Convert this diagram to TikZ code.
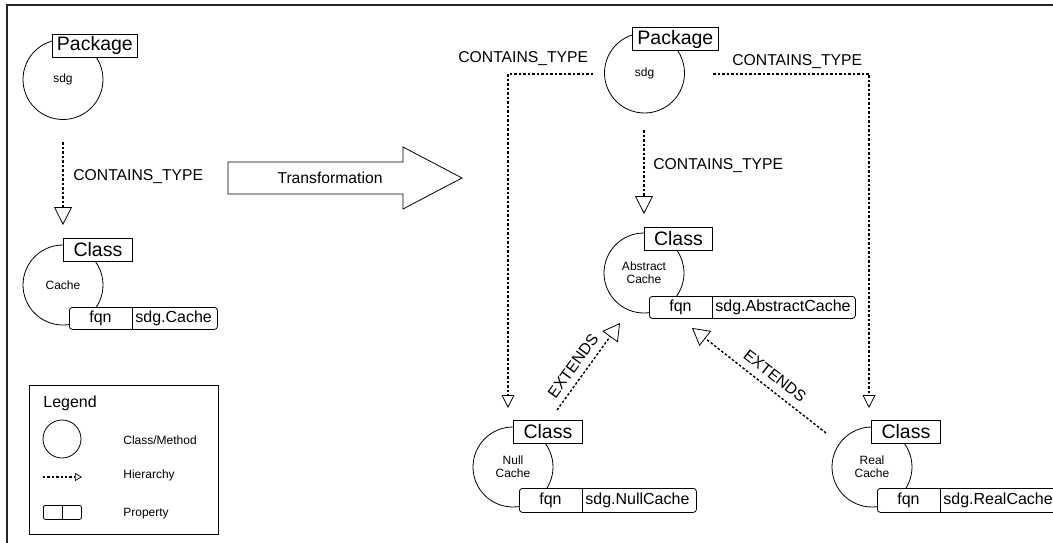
\documentclass[tikz,border=0pt]{standalone}
\usepackage{fontspec}
\setmainfont{Liberation Sans}
\usetikzlibrary{arrows.meta}
\tikzset{
  fs/.style={font=\fontsize{#1}{13}\selectfont},
  cls/.style={draw, circle, minimum size=80pt, inner sep=0pt, align=center, fs=12},
  hdr/.style={draw, fill=white, anchor=north west, inner sep=0pt, fs=19.5, minimum height=23pt},
  prop/.style={draw, fill=white, rounded corners=3pt, anchor=north west, inner sep=0pt, minimum height=22pt},
  ptxt/.style={inner sep=0pt, fs=16},
  lbl/.style={inner sep=0pt, fs=15.7},
  hier/.style={line width=1.4pt, dash pattern=on 2.5pt off 2pt},
  bigtip/.style={-{Triangle[open, length=18pt, width=18pt, line width=0.8pt]}},
  smalltip/.style={-{Triangle[open, length=13pt, width=13pt, line width=0.8pt]}},
  exttip/.style={-{Triangle[open, length=17pt, width=19pt, line width=0.8pt]}},
}
\begin{document}
\begin{tikzpicture}[x=1pt, y=-1pt, line width=0.8pt]
\useasboundingbox (0,0) rectangle (1053,543);
% frame
\draw[line width=1.3pt, black!85] (7,560) -- (7,5) -- (1070,5);

% ---------- left: package ----------
\node[cls] (pkgL) at (63,79.5) {sdg};
\node[hdr, minimum width=85pt] (pkgLh) at (52,34) {Package};

% ---------- left: class Cache ----------
\node[cls] (clsL) at (63,285) {Cache};
\node[hdr, minimum width=69pt] (clsLh) at (63,238) {Class};
\node[prop, minimum width=148pt] (propL) at (69,307) {};
\draw (132,307) -- (132,329);
\node[ptxt] (propLk) at (100.5,318.5) {fqn};
\node[ptxt, anchor=west] (propLv) at (135,318.5) {sdg.Cache};

\coordinate (aLs) at (63,142);
\coordinate (aLe) at (63,225);
\draw[hier, bigtip] (aLs) -- (aLe);
\node[lbl, anchor=west] (ctL) at (73,177) {CONTAINS\_TYPE};

% ---------- transformation arrow ----------
\draw (228,162) -- (403,162) -- (403,147) -- (462,178) -- (403,209) -- (403,194) -- (228,194) -- cycle;
\node[lbl] (trans) at (330,178) {Transformation};

% ---------- right: package ----------
\node[cls] (pkgR) at (644.5,73) {sdg};
\node[hdr, minimum width=86pt] (pkgRh) at (632,27.5) {Package};

% ---------- right: abstract cache ----------
\node[cls] (clsA) at (644,273) {Abstract\\Cache};
\node[hdr, minimum width=68pt] (clsAh) at (644,227) {Class};
\node[prop, minimum width=206pt] (propA) at (649,296) {};
\draw (712,296) -- (712,318);
\node[ptxt] (propAk) at (680.5,307.5) {fqn};
\node[ptxt, anchor=west] (propAv) at (715,307.5) {sdg.AbstractCache};

% ---------- null cache ----------
\node[cls] (clsN) at (513,467) {Null\\Cache};
\node[hdr, minimum width=69pt] (clsNh) at (513,420) {Class};
\node[prop, minimum width=177pt, minimum height=24pt] (propN) at (519,488) {};
\draw (582,488) -- (582,512);
\node[ptxt] (propNk) at (550.5,500) {fqn};
\node[ptxt, anchor=west] (propNv) at (585,500) {sdg.NullCache};

% ---------- real cache ----------
\node[cls] (clsR) at (872,467) {Real\\Cache};
\node[hdr, minimum width=69pt] (clsRh) at (871,420) {Class};
\node[prop, minimum width=180pt, minimum height=24pt] (propR) at (877,488) {};
\draw (940,488) -- (940,512);
\node[ptxt] (propRk) at (908.5,500) {fqn};
\node[ptxt, anchor=west] (propRv) at (943,500) {sdg.RealCache};

% ---------- contains arrows ----------
\coordinate (cLs) at (593,74);
\coordinate (cLe) at (508,408);
\draw[hier, smalltip] (cLs) -| (cLe);
\node[lbl, anchor=west] (ctTL) at (458,58.5) {CONTAINS\_TYPE};

\coordinate (cRs) at (713,74);
\coordinate (cRe) at (869,408);
\draw[hier, smalltip] (cRs) -| (cRe);
\node[lbl, anchor=west] (ctTR) at (732,62) {CONTAINS\_TYPE};

\coordinate (cCs) at (644,130);
\coordinate (cCe) at (644,214);
\draw[hier, bigtip] (cCs) -- (cCe);
\node[lbl, anchor=west] (ctC) at (653,166) {CONTAINS\_TYPE};

% ---------- extends arrows ----------
\coordinate (eLs) at (557,410);
\coordinate (eLe) at (620,323);
\draw[hier, exttip] (eLs) -- (eLe);
\node[lbl, rotate=54] (extL) at (573,366) {EXTENDS};

\coordinate (eRs) at (826,433);
\coordinate (eRe) at (692,328);
\draw[hier, exttip] (eRs) -- (eRe);
\node[lbl, rotate=-38] (extR) at (775,376) {EXTENDS};

% ---------- legend ----------
\node[draw, anchor=north west, minimum width=189pt, minimum height=149pt, inner sep=0pt] (legend) at (29,385) {};
\node[lbl, anchor=west, fs=16] (legT) at (43,403) {Legend};
\node[draw, circle, minimum size=38pt, inner sep=0pt] (legC) at (62,439) {};
\node[ptxt, anchor=west, fs=12] (legCt) at (123,440) {Class/Method};
\coordinate (legHs) at (43,477);
\coordinate (legHe) at (82,477);
\draw[line width=1.1pt, dash pattern=on 2.4pt off 2pt, -{Triangle[open, length=7pt, width=8pt, line width=0.7pt]}] (legHs) -- (legHe);
\node[ptxt, anchor=west, fs=12] (legHt) at (123,475) {Hierarchy};
\node[draw, rounded corners=2pt, anchor=north west, minimum width=38pt, minimum height=14pt, inner sep=0pt] (legP) at (43,505) {};
\draw (62,505) -- (62,519);
\node[ptxt, anchor=west, fs=12] (legPt) at (123,514) {Property};
\end{tikzpicture}
\end{document}
